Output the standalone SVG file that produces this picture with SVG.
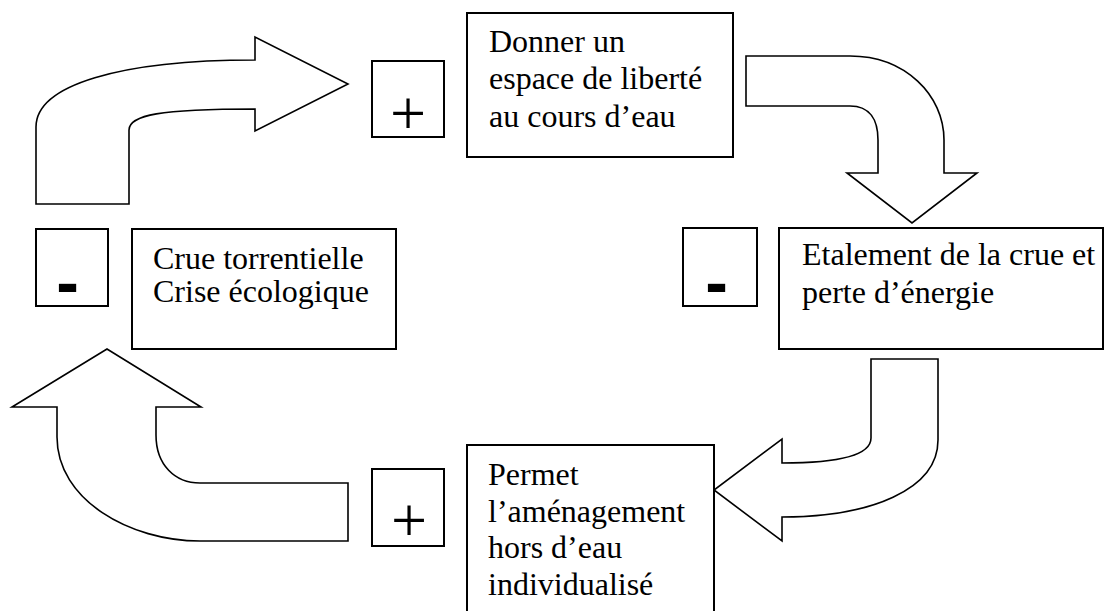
<svg xmlns="http://www.w3.org/2000/svg" width="1104" height="611" viewBox="0 0 1104 611">
<style>
.box{fill:#fff;stroke:#000;stroke-width:2}
.arrow{fill:#fff;stroke:#000;stroke-width:1.6;stroke-linejoin:miter}
.lbl{font-family:"Liberation Serif","Times New Roman",serif;font-size:32px;fill:#000}
.plus{font-family:"Liberation Serif","Times New Roman",serif;font-size:64px;fill:#000;text-anchor:middle}
.minus{font-family:"Liberation Sans",Arial,sans-serif;font-weight:bold;font-size:68px;fill:#000;text-anchor:middle}
</style>
<rect width="1104" height="611" fill="#fff"/>
<g id="connectors">
  <path class="arrow" d="M36,204 L36,127 C36,85 120,60 255,60 L255,37 L348,84 L255,131 L255,109 C160,109 129,115 129,130 L129,204 Z"/>
  <path class="arrow" d="M746,56 L850,56 C905,56 944,95 944,140 L944,173 L977,173 L912,223 L847,173 L878,173 L878,140 C878,120 870,106 850,106 L746,106 Z"/>
  <path class="arrow" d="M871,359 L938,359 L938,440 C938,490 870,517 782,517 L782,541 L714,490 L782,439 L782,463 C840,463 871,455 871,438 Z"/>
  <path class="arrow" d="M348,483 L348,541 L200,541 C130,541 57,500 57,437 L57,407 L12,407 L107,349 L201,407 L156,407 L156,435 C156,465 175,483 200,483 Z"/>
</g>
<g id="sign-plus-top">
  <rect class="box" x="372" y="61" width="72" height="76"/>
  <text class="plus" x="408" y="135">+</text>
</g>
<g id="node-donner">
  <rect class="box" x="467" y="13" width="266" height="144"/>
  <text class="lbl" x="489" y="52">Donner un</text>
  <text class="lbl" x="489" y="89">espace de liberté</text>
  <text class="lbl" x="489" y="127">au cours d’eau</text>
</g>
<g id="sign-minus-right">
  <rect class="box" x="683" y="228" width="74" height="78"/>
  <text class="minus" x="716.5" y="306">-</text>
</g>
<g id="node-etalement">
  <rect class="box" x="779" y="228" width="324" height="121"/>
  <text class="lbl" x="802" y="265">Etalement de la crue et</text>
  <text class="lbl" x="802" y="303">perte d’énergie</text>
</g>
<g id="sign-minus-left">
  <rect class="box" x="36" y="229" width="72" height="77"/>
  <text class="minus" x="67.5" y="306">-</text>
</g>
<g id="node-crue">
  <rect class="box" x="132" y="229" width="264" height="120"/>
  <text class="lbl" x="153" y="269">Crue torrentielle</text>
  <text class="lbl" x="153" y="302">Crise écologique</text>
</g>
<g id="sign-plus-bottom">
  <rect class="box" x="372" y="469" width="72" height="77"/>
  <text class="plus" x="409" y="542">+</text>
</g>
<g id="node-permet">
  <rect class="box" x="467" y="445" width="247" height="180"/>
  <text class="lbl" x="488" y="485">Permet</text>
  <text class="lbl" x="488" y="522">l’aménagement</text>
  <text class="lbl" x="488" y="558">hors d’eau</text>
  <text class="lbl" x="488" y="595">individualisé</text>
</g>
</svg>
